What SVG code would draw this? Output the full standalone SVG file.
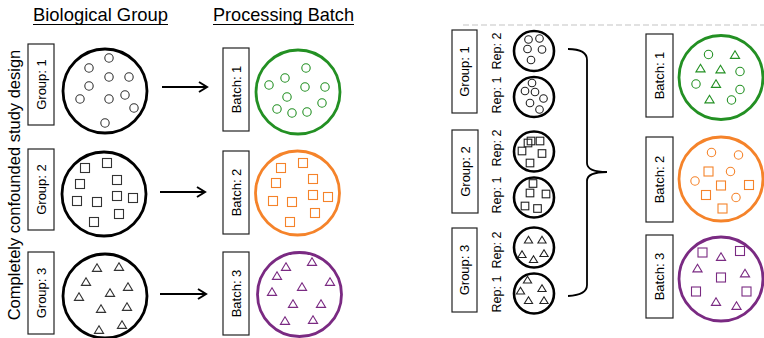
<svg xmlns="http://www.w3.org/2000/svg" xmlns:xlink="http://www.w3.org/1999/xlink" width="764" height="338" viewBox="0 0 764 338">
<style>
text{font-family:"Liberation Sans",Arial,sans-serif;fill:#000}
.hdr{font-size:18.5px}
.side{font-size:16.5px}
.lbl{font-size:13px;text-anchor:middle}
.rep{font-size:12.5px;text-anchor:middle}
.box{fill:#fff;stroke:#222;stroke-width:1.2}
.big{fill:#fff;stroke-width:2.8}
.k{stroke:#000}
.g{stroke:#239023}
.o{stroke:#f5832a}
.p{stroke:#7a2a82}
.sm{fill:none;stroke-width:1.1}
.smk{stroke:#333}
.rc{fill:#fff;stroke:#000;stroke-width:2.6}
.rs{fill:none;stroke:#222;stroke-width:1.1}
</style>
<defs>
<circle id="c" r="4.2"/>
<rect id="s" x="-4.5" y="-4.5" width="9" height="9"/>
<path id="t" d="M0,-4.3 L4.6,3.4 L-4.6,3.4 Z"/>
<circle id="cs" r="3.8"/>
<rect id="ss" x="-3.8" y="-3.8" width="7.6" height="7.6"/>
<path id="ts" d="M0,-3.8 L4.1,3 L-4.1,3 Z"/>
<marker id="arr" viewBox="0 0 12 12" refX="10" refY="6" markerWidth="12" markerHeight="12" markerUnits="userSpaceOnUse" orient="auto"><path d="M2,1 L10,6 L2,11" fill="none" stroke="#000" stroke-width="2"/></marker>
</defs>

<!-- headers -->
<g id="headers">
<text class="hdr" x="33" y="21" textLength="135" lengthAdjust="spacingAndGlyphs">Biological Group</text>
<line x1="33" y1="24.5" x2="168" y2="24.5" stroke="#000" stroke-width="1.2"/>
<text class="hdr" x="213" y="21" textLength="141" lengthAdjust="spacingAndGlyphs">Processing Batch</text>
<line x1="213" y1="24.5" x2="354" y2="24.5" stroke="#000" stroke-width="1.2"/>
<text class="side" text-anchor="middle" transform="translate(20,185) rotate(-90)">Completely confounded study design</text>
</g>

<!-- left panel -->
<g id="group1-box"><rect class="box" x="28" y="44" width="26" height="81"/><text class="lbl" transform="translate(41,84.5) rotate(-90)" y="4.6">Group: 1</text></g>
<g id="group1-circle"><circle class="big k" cx="105" cy="91" r="42"/>
<g class="sm smk"><use href="#c" x="109" y="58"/><use href="#c" x="89" y="68"/><use href="#c" x="109" y="77"/><use href="#c" x="129" y="77"/><use href="#c" x="89" y="86"/><use href="#c" x="80" y="99"/><use href="#c" x="109" y="99"/><use href="#c" x="125" y="95"/><use href="#c" x="134" y="108"/><use href="#c" x="105" y="123"/></g></g>

<g id="batch1-box"><rect class="box" x="223" y="48" width="26" height="83"/><text class="lbl" transform="translate(236,89.5) rotate(-90)" y="4.6">Batch: 1</text></g>
<g id="batch1-circle"><circle class="big g" cx="298" cy="92" r="42"/>
<g class="sm g"><use href="#c" x="306" y="68"/><use href="#c" x="285" y="78"/><use href="#c" x="305" y="87"/><use href="#c" x="325" y="87"/><use href="#c" x="269" y="85"/><use href="#c" x="287" y="97"/><use href="#c" x="322" y="103"/><use href="#c" x="277" y="109"/><use href="#c" x="292" y="113"/><use href="#c" x="307" y="112"/></g></g>

<g id="group2-box"><rect class="box" x="28" y="149" width="26" height="81"/><text class="lbl" transform="translate(41,189.5) rotate(-90)" y="4.6">Group: 2</text></g>
<g id="group2-circle"><circle class="big k" cx="104" cy="194" r="42"/>
<g class="sm smk"><use href="#s" x="85" y="168"/><use href="#s" x="107" y="163"/><use href="#s" x="80" y="184"/><use href="#s" x="117" y="180"/><use href="#s" x="77" y="201"/><use href="#s" x="97" y="202"/><use href="#s" x="117" y="196"/><use href="#s" x="133" y="198"/><use href="#s" x="119" y="214"/><use href="#s" x="94" y="222"/></g></g>

<g id="batch2-box"><rect class="box" x="223" y="151" width="26" height="83"/><text class="lbl" transform="translate(236,192.5) rotate(-90)" y="4.6">Batch: 2</text></g>
<g id="batch2-circle"><circle class="big o" cx="297.5" cy="193" r="42"/>
<g class="sm o"><use href="#s" x="281" y="168"/><use href="#s" x="303" y="163"/><use href="#s" x="276" y="183"/><use href="#s" x="313" y="179"/><use href="#s" x="273" y="201"/><use href="#s" x="292" y="202"/><use href="#s" x="313" y="195"/><use href="#s" x="328" y="197"/><use href="#s" x="315" y="213"/><use href="#s" x="290" y="222"/></g></g>

<g id="group3-box"><rect class="box" x="28" y="252" width="26" height="82"/><text class="lbl" transform="translate(41,293) rotate(-90)" y="4.6">Group: 3</text></g>
<g id="group3-circle"><circle class="big k" cx="105" cy="296" r="42"/>
<g class="sm smk"><use href="#t" x="97" y="268"/><use href="#t" x="119" y="267"/><use href="#t" x="86" y="282"/><use href="#t" x="110" y="293"/><use href="#t" x="128" y="287"/><use href="#t" x="79" y="297"/><use href="#t" x="101" y="309"/><use href="#t" x="127" y="307"/><use href="#t" x="99" y="330"/><use href="#t" x="122" y="325"/></g></g>

<g id="batch3-box"><rect class="box" x="223" y="252" width="26" height="83"/><text class="lbl" transform="translate(236,293.5) rotate(-90)" y="4.6">Batch: 3</text></g>
<g id="batch3-circle"><circle class="big p" cx="299.5" cy="294.5" r="42"/>
<g class="sm p"><use href="#t" x="312" y="262"/><use href="#t" x="286" y="267"/><use href="#t" x="277" y="276"/><use href="#t" x="330" y="282"/><use href="#t" x="302" y="287"/><use href="#t" x="272" y="292"/><use href="#t" x="293" y="304"/><use href="#t" x="321" y="304"/><use href="#t" x="285" y="321"/><use href="#t" x="313" y="320"/></g></g>

<!-- right panel -->
<g id="rg1-box"><rect class="box" x="452" y="30" width="25" height="83"/><text class="lbl" transform="translate(464.5,71.5) rotate(-90)" y="4.6">Group: 1</text></g>
<g id="rg1-rep2"><text class="rep" transform="translate(497,51) rotate(-90)" y="4.4">Rep: 2</text><circle class="rc" cx="534" cy="51" r="20"/>
<g class="rs"><use href="#cs" x="528.5" y="39.5"/><use href="#cs" x="539.5" y="38.5"/><use href="#cs" x="527.5" y="49"/><use href="#cs" x="542" y="49.5"/><use href="#cs" x="531" y="60"/></g></g>
<g id="rg1-rep1"><text class="rep" transform="translate(497,95) rotate(-90)" y="4.4">Rep: 1</text><circle class="rc" cx="534" cy="97" r="20"/>
<g class="rs"><use href="#cs" x="532" y="83"/><use href="#cs" x="525" y="91"/><use href="#cs" x="535" y="92"/><use href="#cs" x="543.5" y="98.5"/><use href="#cs" x="530" y="103"/><use href="#cs" x="539.5" y="109.5"/></g></g>

<g id="rg2-box"><rect class="box" x="452" y="130" width="26" height="83"/><text class="lbl" transform="translate(465,171.5) rotate(-90)" y="4.6">Group: 2</text></g>
<g id="rg2-rep2"><text class="rep" transform="translate(497,148) rotate(-90)" y="4.4">Rep: 2</text><circle class="rc" cx="534" cy="151.5" r="20"/>
<g class="rs"><use href="#ss" x="528" y="143"/><use href="#ss" x="531" y="141"/><use href="#ss" x="540" y="141"/><use href="#ss" x="522" y="151"/><use href="#ss" x="542" y="153.5"/><use href="#ss" x="530" y="163"/></g></g>
<g id="rg2-rep1"><text class="rep" transform="translate(497,195) rotate(-90)" y="4.4">Rep: 1</text><circle class="rc" cx="534" cy="197.5" r="20"/>
<g class="rs"><use href="#ss" x="533" y="183.5"/><use href="#ss" x="530" y="193"/><use href="#ss" x="546" y="194"/><use href="#ss" x="525" y="206"/><use href="#ss" x="537.5" y="208.5"/></g></g>

<g id="rg3-box"><rect class="box" x="452" y="228" width="25" height="84"/><text class="lbl" transform="translate(464.5,270) rotate(-90)" y="4.6">Group: 3</text></g>
<g id="rg3-rep2"><text class="rep" transform="translate(497,250) rotate(-90)" y="4.4">Rep: 2</text><circle class="rc" cx="534" cy="247.5" r="20"/>
<g class="rs"><use href="#ts" x="528.5" y="240"/><use href="#ts" x="542" y="240"/><use href="#ts" x="522" y="254.5"/><use href="#ts" x="533.5" y="259.5"/><use href="#ts" x="544" y="253.5"/></g></g>
<g id="rg3-rep1"><text class="rep" transform="translate(497,294) rotate(-90)" y="4.4">Rep: 1</text><circle class="rc" cx="534" cy="293.5" r="20"/>
<g class="rs"><use href="#ts" x="527.5" y="280"/><use href="#ts" x="520.5" y="291"/><use href="#ts" x="542" y="288.5"/><use href="#ts" x="528.5" y="300.5"/><use href="#ts" x="544" y="300.5"/></g></g>

<g id="rb1-box"><rect class="box" x="646" y="34" width="27" height="83"/><text class="lbl" transform="translate(659.5,75.5) rotate(-90)" y="4.6">Batch: 1</text></g>
<g id="rb1-circle"><circle class="big g" cx="721" cy="77.5" r="42"/>
<g class="sm g"><use href="#c" x="708.5" y="54.5"/><use href="#t" x="735" y="55"/><use href="#t" x="700.5" y="68.5"/><use href="#t" x="720.5" y="69.5"/><use href="#c" x="740" y="71.5"/><use href="#c" x="696" y="84"/><use href="#t" x="716" y="84"/><use href="#c" x="740" y="89.5"/><use href="#t" x="709.5" y="99.5"/><use href="#c" x="731.5" y="100"/></g></g>

<g id="rb2-box"><rect class="box" x="646" y="137" width="27" height="85"/><text class="lbl" transform="translate(659.5,179.5) rotate(-90)" y="4.6">Batch: 2</text></g>
<g id="rb2-circle"><circle class="big o" cx="721" cy="179" r="42"/>
<g class="sm o"><use href="#c" x="711.5" y="152.5"/><use href="#c" x="738.5" y="155"/><use href="#s" x="708.5" y="171.5"/><use href="#c" x="730.5" y="171.5"/><use href="#c" x="695" y="181"/><use href="#s" x="721" y="185.5"/><use href="#s" x="749" y="185"/><use href="#s" x="706" y="195"/><use href="#c" x="736" y="197.5"/><use href="#s" x="722.5" y="208.5"/></g></g>

<g id="rb3-box"><rect class="box" x="646" y="235" width="27" height="83"/><text class="lbl" transform="translate(659.5,276.5) rotate(-90)" y="4.6">Batch: 3</text></g>
<g id="rb3-circle"><circle class="big p" cx="721" cy="279" r="42"/>
<g class="sm p"><use href="#s" x="702.5" y="252.5"/><use href="#t" x="721" y="257"/><use href="#s" x="740" y="251"/><use href="#t" x="697.5" y="268.5"/><use href="#s" x="721" y="277.5"/><use href="#t" x="745" y="273.5"/><use href="#s" x="696" y="291.5"/><use href="#s" x="746.5" y="291.5"/><use href="#t" x="716" y="302"/><use href="#t" x="736.5" y="306"/></g></g>

<!-- connectors -->
<g id="connectors" fill="none" stroke="#000">
<line x1="162" y1="87" x2="207" y2="87" stroke-width="2" marker-end="url(#arr)"/>
<line x1="160" y1="192" x2="205" y2="192" stroke-width="2" marker-end="url(#arr)"/>
<line x1="160" y1="294" x2="206" y2="294" stroke-width="2" marker-end="url(#arr)"/>
<path d="M568,49 Q587,49 587,60 L587,163 Q587,172 607,172 Q587,172 587,181 L587,285 Q587,295 568,296" stroke-width="1.8"/>
<line x1="463" y1="25" x2="764" y2="25" stroke="#c4c4c4" stroke-width="1.2" stroke-dasharray="6 3"/>
</g>
</svg>
